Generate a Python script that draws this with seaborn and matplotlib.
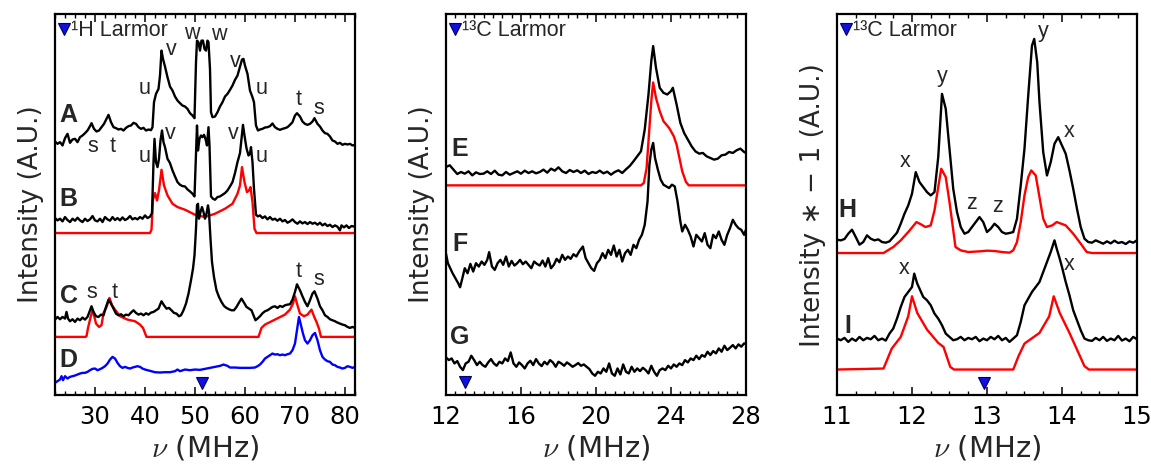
import matplotlib
matplotlib.use('Agg')
import matplotlib.pyplot as plt
from matplotlib.ticker import MultipleLocator
import seaborn as sns

# ---------------- panel 1 : 1H Larmor (A-D) ----------------
a_x = [22.0, 22.5, 23.0, 23.5, 24.0, 24.5, 25.0, 25.5, 26.0, 26.5, 27.0, 27.5, 28.0, 28.5, 29.0, 29.3,
       29.8, 30.3, 30.8, 31.3, 31.8, 32.3, 32.7, 33.2, 33.7, 34.2, 34.7, 35.2, 35.7, 36.2, 36.7, 37.2,
       37.7, 38.2, 38.7, 39.2, 39.7, 40.2, 40.7, 41.2, 41.5, 41.8, 42.2, 42.7, 43.0, 43.3, 43.6, 44.0,
       44.5, 45.0, 45.5, 46.0, 46.5, 47.0, 47.5, 48.0, 48.5, 49.0, 49.5, 49.9, 50.2, 50.4, 50.7, 51.0,
       51.3, 51.6, 51.9, 52.2, 52.5, 52.7, 53.0, 53.2, 53.5, 54.0, 54.5, 55.0, 55.5, 56.0, 56.5, 57.0,
       57.5, 58.0, 58.5, 59.0, 59.4, 59.7, 60.0, 60.5, 61.0, 61.5, 61.8, 62.2, 62.6, 63.0, 63.5, 64.0,
       64.5, 65.0, 65.5, 66.0, 66.5, 67.0, 67.5, 68.0, 68.5, 69.0, 69.5, 70.0, 70.4, 71.0, 71.5, 72.0,
       72.5, 73.0, 73.5, 73.9, 74.5, 75.0, 75.5, 76.0, 76.5, 77.0, 77.5, 78.0, 78.5, 79.0, 79.5, 80.0,
       80.5, 81.0, 81.5, 82.0]
a_y = [76.2, 75.5, 76.0, 75.0, 77.2, 78.5, 75.8, 76.8, 77.0, 76.0, 77.5, 78.0, 78.7, 79.5, 80.8, 81.7,
       80.0, 79.2, 79.5, 80.5, 81.5, 83.0, 84.2, 82.0, 80.5, 80.2, 79.8, 80.0, 79.5, 80.3, 80.8, 81.0,
       81.8, 81.5, 80.5, 80.0, 80.3, 79.5, 79.8, 79.6, 80.5, 88.0, 90.5, 92.0, 96.0, 103.5, 101.0, 98.7,
       95.5, 92.7, 91.5, 89.7, 88.5, 87.7, 87.0, 86.7, 86.0, 84.7, 84.0, 83.2, 100.0, 106.5, 106.0, 103.5,
       106.5, 106.5, 104.0, 103.5, 106.5, 106.0, 98.0, 85.0, 83.5, 83.7, 85.0, 86.7, 88.0, 89.7, 90.5, 91.7,
       93.0, 94.7, 96.0, 98.7, 100.8, 101.0, 99.0, 96.5, 91.5, 89.5, 88.0, 81.0, 79.5, 79.8, 80.0, 80.4,
       80.5, 80.8, 81.6, 80.5, 80.0, 79.7, 80.0, 80.2, 80.5, 81.2, 82.0, 84.0, 84.7, 83.7, 82.2, 81.5,
       81.2, 81.5, 82.2, 83.2, 81.5, 80.7, 79.5, 78.7, 78.5, 77.7, 76.5, 76.2, 75.5, 75.8, 75.2, 75.5,
       75.3, 75.5, 75.0, 75.2]

b_x = [22.0, 22.5, 23.0, 23.5, 24.0, 24.5, 25.0, 25.5, 26.0, 26.5, 27.0, 27.5, 28.0, 28.5, 29.0, 29.5,
       30.0, 30.5, 31.0, 31.5, 32.0, 32.5, 33.0, 33.5, 34.0, 34.5, 35.0, 35.5, 36.0, 36.5, 37.0, 37.5,
       38.0, 38.5, 39.0, 39.5, 40.0, 40.5, 41.0, 41.4, 41.7, 41.9, 42.2, 42.5, 42.8, 43.1, 43.4, 43.7,
       44.0, 44.5, 45.0, 45.5, 46.0, 46.5, 47.0, 47.5, 48.0, 48.5, 49.0, 49.5, 49.9, 50.2, 50.4, 50.6,
       50.9, 51.2, 51.5, 51.8, 52.1, 52.4, 52.7, 52.9, 53.2, 53.6, 54.0, 54.5, 55.0, 55.5, 56.0, 56.5,
       57.0, 57.5, 58.0, 58.5, 59.0, 59.3, 59.6, 59.9, 60.3, 60.7, 61.0, 61.2, 61.5, 61.8, 62.2, 62.6,
       63.0, 63.5, 64.0, 64.5, 65.0, 65.5, 66.0, 66.5, 67.0, 67.5, 68.0, 68.5, 69.0, 69.5, 70.0, 70.5,
       71.0, 71.5, 72.0, 72.5, 73.0, 73.5, 74.0, 74.5, 75.0, 75.5, 76.0, 76.5, 77.0, 77.5, 78.0, 78.5,
       79.0, 79.3, 79.8, 80.3, 80.8, 81.3, 82.0]
b_y = [53.2, 52.5, 53.0, 52.2, 53.5, 52.6, 52.0, 53.0, 52.4, 53.3, 52.5, 52.0, 53.0, 52.3, 52.8, 53.8,
       52.5, 52.2, 53.0, 52.0, 53.5, 52.8, 52.4, 53.5, 52.6, 53.2, 52.5, 53.4, 52.6, 53.0, 53.8, 52.8,
       53.2, 52.8, 53.5, 53.0, 54.0, 53.2, 53.6, 54.7, 70.0, 77.0, 70.0, 68.5, 71.0, 76.5, 79.5, 76.0,
       74.5, 71.0, 69.7, 67.5, 65.7, 64.0, 63.2, 62.8, 62.7, 61.8, 61.2, 60.5, 59.7, 73.0, 81.0, 73.5,
       77.0, 78.0, 77.5, 78.2, 77.0, 75.0, 80.5, 75.0, 59.7, 59.0, 58.7, 59.5, 59.7, 60.2, 60.7, 61.5,
       62.7, 64.0, 66.7, 70.0, 72.7, 77.0, 81.2, 78.0, 74.2, 72.0, 72.5, 74.5, 70.0, 62.0, 54.2, 53.7,
       54.0, 53.2, 53.7, 52.8, 53.5, 52.7, 53.0, 52.4, 53.0, 52.2, 52.6, 51.8, 52.2, 52.8, 52.0, 51.5,
       52.2, 51.6, 52.0, 51.4, 52.0, 51.5, 51.8, 51.2, 51.8, 51.0, 51.5, 50.8, 51.2, 50.5, 51.0, 50.6,
       49.5, 51.0, 50.4, 51.0, 50.2, 50.8, 50.6]

b_fit_x = [22.0, 41.0, 41.3, 41.6, 42.0, 42.4, 42.8, 43.3, 43.8, 44.5, 45.5, 46.5, 48.0, 50.0, 52.0, 54.0,
           56.0, 57.5, 58.5, 59.0, 59.4, 59.9, 60.4, 60.8, 61.1, 61.5, 61.9, 62.3, 82.0]
b_fit_y = [48.7, 48.7, 49.7, 58.7, 60.7, 58.5, 61.5, 67.7, 63.0, 60.0, 57.5, 56.5, 55.7, 54.2, 53.5, 54.5,
           56.0, 57.5, 60.5, 63.0, 68.5, 64.0, 61.0, 61.5, 62.5, 58.0, 50.0, 48.7, 48.7]

c_x = [22.0, 22.5, 23.0, 23.5, 24.0, 24.3, 24.6, 25.0, 25.5, 26.0, 26.5, 27.0, 27.5, 28.0, 28.5, 29.0,
       29.3, 29.7, 30.2, 30.7, 31.2, 31.7, 32.2, 32.7, 33.2, 33.7, 34.2, 34.7, 35.2, 35.7, 36.2, 36.7,
       37.2, 37.7, 38.2, 38.7, 39.2, 39.7, 40.2, 40.7, 41.2, 41.7, 42.2, 42.7, 43.3, 43.8, 44.3, 44.8,
       45.3, 45.8, 46.3, 46.8, 47.2, 47.7, 48.2, 48.7, 49.2, 49.6, 49.9, 50.2, 50.4, 50.6, 50.8, 51.1,
       51.4, 51.7, 52.0, 52.3, 52.6, 52.8, 53.1, 53.4, 53.8, 54.3, 54.8, 55.3, 55.8, 56.3, 56.8, 57.3,
       57.8, 58.3, 58.8, 59.3, 59.8, 60.3, 60.8, 61.3, 61.7, 62.1, 62.5, 63.0, 63.5, 64.0, 64.5, 65.0,
       65.5, 66.0, 66.5, 67.0, 67.5, 68.0, 68.5, 69.0, 69.5, 70.0, 70.4, 71.0, 71.5, 72.0, 72.5, 73.0,
       73.5, 73.9, 74.5, 75.0, 75.5, 76.0, 76.5, 77.0, 77.5, 78.0, 78.5, 79.0, 79.5, 80.0, 80.5, 81.0,
       81.5, 82.0]
c_y = [22.7, 23.5, 22.8, 23.5, 23.0, 25.0, 23.0, 22.2, 22.8, 22.0, 23.0, 22.5, 23.3, 22.7, 23.5, 25.5,
       26.7, 25.0, 23.7, 23.5, 24.2, 24.0, 26.5, 28.7, 27.5, 26.0, 24.5, 24.0, 24.3, 23.7, 24.2, 24.0,
       24.8, 25.5, 24.7, 24.2, 24.5, 24.0, 24.6, 24.2, 24.8, 25.0, 25.5, 26.0, 28.2, 27.0, 26.0, 26.2,
       25.5, 24.7, 24.5, 23.7, 24.0, 25.5, 27.5, 30.5, 34.5, 38.0, 42.0, 50.0, 57.0, 57.5, 53.0, 55.0,
       56.5, 55.0, 53.0, 54.5, 57.0, 55.0, 47.0, 40.0, 35.5, 31.5, 29.5, 28.0, 26.8, 26.2, 25.8, 25.5,
       25.5, 26.5, 27.8, 29.0, 27.8, 26.5, 26.0, 25.5, 24.0, 22.5, 23.0, 23.7, 24.6, 25.2, 25.5, 26.0,
       26.5, 26.7, 26.2, 26.8, 26.5, 27.0, 27.2, 27.3, 28.7, 31.0, 33.3, 31.5, 29.7, 28.0, 26.7, 28.5,
       30.5, 31.2, 29.0, 26.7, 25.5, 24.0, 23.5, 22.8, 22.5, 22.2, 21.8, 21.5, 21.2, 21.0, 20.5, 20.2,
       20.5, 20.2]

c_fit_x = [22.0, 28.1, 28.3, 28.6, 29.0, 29.5, 29.8, 30.2, 30.8, 31.3, 31.7, 32.3, 32.9, 33.4, 34.0, 35.0,
           36.5, 38.0, 39.0, 39.6, 40.3, 62.7, 63.3, 64.0, 66.0, 68.0, 69.0, 69.6, 70.0, 70.5, 71.0, 71.8,
           72.5, 73.3, 73.8, 74.3, 74.8, 75.2, 82.0]
c_fit_y = [17.5, 17.5, 17.7, 20.2, 22.7, 25.7, 24.0, 21.5, 20.5, 21.0, 24.7, 26.5, 29.2, 27.0, 25.7, 23.7,
           22.7, 22.2, 21.2, 20.2, 17.5, 17.5, 20.2, 21.2, 22.7, 24.2, 25.7, 27.5, 29.7, 27.0, 24.5, 23.7,
           24.2, 25.7, 23.7, 22.0, 20.0, 17.5, 17.5]

d_x = [22.0, 22.5, 23.0, 23.3, 23.6, 24.0, 24.5, 25.0, 25.5, 26.0, 26.5, 27.0, 27.5, 28.0, 28.5, 29.0,
       29.5, 30.0, 30.5, 31.0, 31.5, 32.0, 32.5, 33.0, 33.5, 34.0, 34.5, 35.0, 35.5, 36.0, 36.5, 37.0,
       37.5, 38.0, 38.5, 39.0, 39.5, 40.0, 41.0, 42.0, 43.0, 44.0, 45.0, 46.0, 46.5, 47.0, 48.0, 49.0,
       50.0, 51.0, 52.0, 53.0, 54.0, 55.0, 55.7, 56.5, 57.0, 58.0, 59.0, 60.0, 61.0, 62.0, 62.5, 63.0,
       63.5, 64.0, 64.5, 65.0, 65.5, 66.0, 66.5, 67.0, 67.5, 68.0, 68.5, 69.0, 69.5, 70.0, 70.4, 70.8,
       71.2, 71.6, 72.0, 72.5, 73.0, 73.5, 74.0, 74.5, 75.0, 75.5, 76.0, 76.5, 77.0, 77.5, 78.0, 78.5,
       79.0, 79.5, 80.0, 80.5, 81.0, 81.5, 82.0]
d_y = [3.7, 4.2, 4.7, 5.7, 4.5, 5.7, 5.0, 5.5, 5.7, 5.9, 6.2, 6.5, 6.7, 6.7, 7.0, 7.5,
       7.9, 8.0, 7.5, 7.8, 8.2, 8.7, 9.5, 10.7, 11.5, 11.0, 9.7, 8.7, 8.2, 8.5, 8.2, 8.0,
       8.3, 8.5, 8.7, 8.5, 8.0, 7.7, 7.3, 6.9, 6.8, 6.9, 6.9, 7.2, 7.7, 7.2, 7.7, 7.5,
       7.7, 7.6, 7.9, 8.2, 8.5, 8.8, 9.2, 8.8, 8.3, 8.3, 8.2, 8.2, 8.2, 8.3, 8.7, 9.2,
       10.0, 11.0, 11.5, 12.0, 12.5, 12.2, 12.3, 12.0, 12.2, 12.0, 12.3, 12.5, 13.5, 15.5, 19.5, 23.5,
       21.0, 18.5, 16.5, 15.5, 16.5, 18.0, 18.7, 16.5, 13.5, 11.5, 10.7, 10.2, 10.0, 9.2, 9.0, 8.5,
       8.3, 8.0, 8.2, 8.7, 8.5, 8.2, 8.5]

# ---------------- panel 2 : 13C Larmor (E-G) ----------------
e_x = [12.0, 12.2, 12.4, 12.6, 12.8, 13.0, 13.2, 13.4, 13.6, 13.8, 14.0, 14.2, 14.4, 14.6, 14.8, 15.0,
       15.2, 15.4, 15.6, 15.8, 16.0, 16.2, 16.4, 16.6, 16.8, 17.0, 17.2, 17.4, 17.6, 17.8, 18.0, 18.2,
       18.4, 18.6, 18.8, 19.0, 19.2, 19.4, 19.6, 19.8, 20.0, 20.2, 20.4, 20.6, 20.8, 21.0, 21.2, 21.4,
       21.6, 21.8, 22.0, 22.2, 22.4, 22.6, 22.8, 22.95, 23.05, 23.2, 23.4, 23.6, 23.8, 24.0, 24.1, 24.3,
       24.5, 24.7, 24.9, 25.1, 25.3, 25.5, 25.7, 25.9, 26.1, 26.3, 26.5, 26.7, 26.9, 27.1, 27.3, 27.5,
       27.7, 27.9, 28.0]
e_y = [68.3, 68.8, 67.5, 66.2, 66.8, 66.3, 67.0, 65.8, 66.7, 66.2, 66.3, 67.0, 66.2, 67.2, 66.0, 65.8,
       66.8, 66.0, 66.5, 67.0, 66.3, 67.2, 66.5, 67.0, 66.4, 66.8, 67.5, 66.6, 67.8, 67.2, 68.2, 67.0,
       66.5, 67.4, 66.8, 67.3, 66.5, 67.2, 66.2, 66.8, 66.5, 67.2, 66.4, 66.9, 66.0, 66.8, 67.3, 66.5,
       67.6, 68.6, 70.0, 71.5, 73.0, 79.5, 90.0, 100.0, 104.5, 98.0, 92.0, 90.5, 90.0, 91.0, 92.0, 87.0,
       81.5, 78.5, 76.5, 74.5, 73.0, 72.3, 72.5, 71.5, 71.0, 70.5, 70.8, 71.8, 72.0, 72.8, 72.5, 73.3,
       73.8, 72.8, 72.5]

e_fit_x = [12.0, 22.4, 22.55, 22.7, 22.85, 22.95, 23.05, 23.2, 23.4, 23.6, 23.9, 24.15, 24.3, 24.45, 24.6,
           24.8, 24.95, 28.0]
e_fit_y = [62.8, 62.8, 63.5, 68.0, 80.0, 88.0, 93.6, 89.0, 85.0, 82.0, 80.0, 77.5, 75.0, 71.0, 67.0,
           63.8, 62.8, 62.8]

f_x = [12.0, 12.1, 12.2, 12.35, 12.5, 12.65, 12.75, 12.85, 13.0, 13.15, 13.3, 13.45, 13.6, 13.75, 13.9, 14.05,
       14.2, 14.3, 14.45, 14.6, 14.75, 14.9, 15.05, 15.2, 15.35, 15.5, 15.65, 15.8, 15.95, 16.1, 16.25, 16.4,
       16.55, 16.7, 16.85, 17.0, 17.15, 17.3, 17.45, 17.6, 17.75, 17.9, 18.05, 18.2, 18.35, 18.5, 18.65, 18.8,
       18.95, 19.1, 19.3, 19.45, 19.6, 19.75, 19.9, 20.05, 20.2, 20.35, 20.5, 20.65, 20.8, 20.95, 21.1, 21.25,
       21.4, 21.55, 21.7, 21.85, 22.0, 22.15, 22.3, 22.45, 22.6, 22.75, 22.85, 22.95, 23.05, 23.15, 23.3, 23.45,
       23.6, 23.75, 23.9, 24.05, 24.2, 24.35, 24.5, 24.6, 24.75, 24.9, 25.05, 25.2, 25.35, 25.5, 25.65, 25.8,
       25.95, 26.1, 26.25, 26.4, 26.55, 26.7, 26.85, 27.0, 27.15, 27.3, 27.45, 27.6, 27.75, 27.9, 28.0]
f_y = [42.3, 39.5, 38.3, 36.5, 35.0, 33.5, 32.3, 34.5, 38.0, 36.5, 39.3, 37.0, 39.5, 38.5, 40.0, 39.0,
       40.5, 42.8, 38.5, 37.5, 39.5, 40.5, 39.0, 41.5, 38.5, 40.2, 38.8, 39.5, 40.5, 39.2, 40.0, 39.0,
       38.0, 40.0, 39.3, 38.8, 40.3, 38.5, 41.0, 38.0, 39.0, 40.8, 39.8, 42.0, 40.5, 41.5, 40.8, 42.2,
       41.5, 43.0, 44.5, 41.0, 39.5, 38.0, 37.2, 39.5, 40.5, 42.5, 41.0, 43.5, 42.0, 44.8, 41.5, 43.5,
       40.0, 42.5, 43.5, 42.0, 45.0, 44.0, 46.5, 48.0, 51.0, 58.0, 69.0, 73.5, 75.5, 71.0, 67.5, 64.5,
       63.0, 62.5, 62.0, 63.0, 62.5, 58.0, 52.0, 49.0, 51.0, 49.5, 47.5, 44.5, 48.0, 47.0, 46.0, 48.5,
       45.0, 44.0, 48.0, 47.0, 49.0, 46.5, 45.0, 48.0, 50.0, 52.5, 51.0, 50.0, 49.5, 48.0, 49.5]

g_x = [12.0, 12.15, 12.3, 12.45, 12.6, 12.75, 12.9, 13.05, 13.2, 13.35, 13.5, 13.65, 13.8, 13.95, 14.1, 14.25,
       14.4, 14.55, 14.7, 14.85, 15.0, 15.15, 15.3, 15.45, 15.6, 15.75, 15.9, 16.05, 16.2, 16.35, 16.5, 16.65,
       16.8, 16.95, 17.1, 17.25, 17.4, 17.55, 17.7, 17.85, 18.0, 18.15, 18.3, 18.45, 18.6, 18.75, 18.9, 19.05,
       19.2, 19.35, 19.5, 19.65, 19.8, 19.95, 20.1, 20.25, 20.4, 20.55, 20.7, 20.85, 21.0, 21.15, 21.3, 21.45,
       21.6, 21.75, 21.9, 22.05, 22.2, 22.35, 22.5, 22.65, 22.8, 22.95, 23.1, 23.25, 23.4, 23.55, 23.7, 23.85,
       24.0, 24.15, 24.3, 24.45, 24.6, 24.75, 24.9, 25.05, 25.2, 25.35, 25.5, 25.65, 25.8, 25.95, 26.1, 26.25,
       26.4, 26.55, 26.7, 26.85, 27.0, 27.15, 27.3, 27.45, 27.6, 27.75, 27.9, 28.0]
g_y = [11.3, 10.5, 11.0, 9.5, 10.2, 8.5, 7.5, 9.5, 10.0, 11.8, 10.5, 9.0, 10.0, 9.0, 8.5, 9.8,
       10.8, 9.5, 8.8, 10.0, 9.5, 11.0, 10.2, 12.8, 9.5, 8.5, 9.8, 9.0, 8.0, 9.5, 10.3, 9.0,
       10.8, 9.5, 8.7, 10.0, 9.2, 10.5, 9.8, 8.5, 10.0, 9.5, 8.8, 9.8, 9.2, 8.5, 9.0, 9.6,
       8.8, 9.2, 8.5, 7.8, 6.5, 5.8, 7.0, 6.5, 8.0, 7.0, 9.5, 6.5, 5.8, 8.0, 6.2, 9.2,
       7.0, 6.5, 8.5, 7.0, 8.0, 7.2, 8.2, 7.5, 6.5, 8.8, 7.0, 5.8, 7.5, 8.0, 7.5, 8.8,
       8.0, 9.2, 8.5, 9.5, 9.0, 10.5, 9.8, 11.0, 10.5, 11.8, 10.8, 12.0, 11.5, 13.0, 12.0, 13.2,
       12.5, 14.0, 13.0, 14.8, 13.5, 14.2, 15.0, 14.0, 15.2, 14.5, 15.5, 15.3]

# ---------------- panel 3 : 13C Larmor (H-I) ----------------
h_x = [11.0, 11.05, 11.1, 11.15, 11.2, 11.25, 11.3, 11.35, 11.4, 11.45, 11.5, 11.55, 11.6, 11.65, 11.7, 11.75,
       11.8, 11.85, 11.9, 11.95, 12.0, 12.05, 12.1, 12.15, 12.2, 12.25, 12.3, 12.35, 12.4, 12.45, 12.5, 12.55,
       12.6, 12.65, 12.7, 12.75, 12.8, 12.85, 12.9, 12.95, 13.0, 13.05, 13.1, 13.15, 13.2, 13.25, 13.3, 13.35,
       13.4, 13.45, 13.5, 13.55, 13.6, 13.63, 13.67, 13.7, 13.75, 13.8, 13.85, 13.9, 13.95, 14.0, 14.05, 14.1,
       14.15, 14.2, 14.25, 14.3, 14.35, 14.4, 14.45, 14.5, 14.55, 14.6, 14.65, 14.7, 14.75, 14.8, 14.85, 14.9,
       14.95, 15.0]
h_y = [46.7, 46.5, 46.9, 48.5, 49.7, 47.5, 45.2, 46.0, 48.0, 47.0, 46.5, 46.8, 46.0, 45.8, 46.2, 47.5,
       48.8, 51.5, 54.5, 57.0, 60.5, 67.0, 64.0, 62.5, 61.0, 60.0, 61.0, 71.5, 90.5, 86.0, 74.0, 62.0,
       55.0, 50.5, 48.5, 49.0, 50.5, 52.0, 53.5, 52.0, 49.0, 50.0, 51.5, 50.5, 49.0, 48.5, 48.7, 49.0,
       53.0, 63.0, 74.0, 90.0, 105.0, 107.0, 100.0, 88.0, 73.0, 66.0, 70.0, 75.5, 77.5, 75.0, 72.5, 67.5,
       62.0, 56.0, 50.5, 47.0, 46.0, 45.8, 46.5, 46.0, 45.5, 46.2, 45.6, 46.4, 45.7, 46.0, 45.4, 46.2,
       45.8, 46.5]

h_fit_x = [11.0, 11.62, 11.75, 11.85, 11.95, 12.06, 12.12, 12.18, 12.25, 12.3, 12.35, 12.39, 12.45, 12.5,
           12.58, 12.65, 12.75, 12.9, 13.0, 13.1, 13.2, 13.3, 13.35, 13.4, 13.45, 13.5, 13.55, 13.59, 13.65,
           13.7, 13.75, 13.8, 13.87, 13.93, 14.05, 14.15, 14.25, 14.33, 14.4, 15.0]
h_fit_y = [42.7, 42.7, 44.5, 46.5, 49.0, 52.0, 51.3, 50.5, 51.0, 55.5, 62.5, 68.0, 65.5, 58.0,
           44.5, 43.5, 43.0, 43.2, 43.4, 43.3, 43.0, 42.8, 43.5, 46.0, 52.0, 60.0, 65.5, 67.5, 66.0,
           59.5, 53.0, 50.5, 51.0, 52.0, 51.0, 48.5, 45.5, 43.0, 42.7, 42.7]

i_x = [11.0, 11.05, 11.1, 11.15, 11.2, 11.25, 11.3, 11.35, 11.4, 11.45, 11.5, 11.55, 11.6, 11.65, 11.7, 11.75,
       11.8, 11.85, 11.9, 11.95, 12.0, 12.03, 12.07, 12.1, 12.15, 12.2, 12.25, 12.3, 12.35, 12.4, 12.45, 12.5,
       12.55, 12.6, 12.65, 12.7, 12.75, 12.8, 12.85, 12.9, 12.95, 13.0, 13.05, 13.1, 13.15, 13.2, 13.25, 13.3,
       13.35, 13.4, 13.45, 13.5, 13.55, 13.6, 13.65, 13.7, 13.75, 13.8, 13.85, 13.9, 13.93, 13.97, 14.0, 14.05,
       14.1, 14.15, 14.2, 14.25, 14.3, 14.35, 14.4, 14.45, 14.5, 14.55, 14.6, 14.65, 14.7, 14.75, 14.8, 14.85,
       14.9, 14.95, 15.0]
i_y = [17.0, 16.5, 17.2, 16.0, 17.0, 16.3, 17.5, 16.5, 17.2, 16.8, 17.8, 16.5, 17.0, 16.4, 18.5, 20.0,
       23.0, 26.5, 29.5, 31.0, 32.5, 36.5, 33.5, 32.0, 29.5, 28.5, 27.0, 24.5, 23.0, 21.0, 18.5, 17.5,
       16.5, 16.8, 17.5, 16.5, 17.2, 16.8, 17.5, 16.2, 17.0, 16.5, 17.5, 16.8, 17.8, 16.5, 17.2, 16.0,
       17.0, 18.0, 22.0, 27.0, 29.0, 31.0, 32.5, 34.0, 37.0, 40.0, 43.0, 46.5, 44.0, 41.0, 38.5, 34.0,
       30.0, 25.5, 22.5, 19.5, 17.0, 16.5, 16.3, 17.2, 16.5, 17.5, 16.3, 17.0, 16.5, 17.8, 16.4, 17.0,
       16.2, 17.5, 16.8]

i_fit_x = [11.0, 11.62, 11.73, 11.85, 11.95, 12.0, 12.07, 12.2, 12.35, 12.42, 12.51, 12.56, 13.35, 13.42,
           13.5, 13.7, 13.83, 13.89, 13.97, 14.1, 14.2, 14.3, 14.36, 15.0]
i_fit_y = [7.7, 8.0, 14.0, 17.5, 23.7, 29.7, 24.7, 19.7, 15.7, 14.5, 8.5, 7.7, 7.7, 11.7,
           15.5, 18.7, 23.7, 29.7, 24.7, 18.7, 13.7, 8.7, 7.7, 7.7]

# text labels of each panel
p1_letters = ['A', 'B', 'C', 'D']
p1_letter_y = [84.2, 58.9, 29.7, 10.7]
p1_peaks = ['w', 'w', 'v', 'v', 'u', 'u', 't', 's', 's', 't', 'u', 'v', 'v', 'u', 's', 't', 't', 's']
p1_peak_x = [49.3, 54.7, 45.3, 58.0, 40.0, 63.3, 70.7, 74.7, 29.5, 33.5, 40.0, 45.0, 57.7, 63.3,
             29.3, 34.0, 70.7, 74.7]
p1_peak_y = [108.7, 108.2, 103.7, 100.2, 92.2, 92.2, 88.7, 86.2, 74.7, 74.7, 71.7, 78.7, 78.7, 71.7,
             30.7, 30.7, 37.2, 34.7]
p2_letters = ['E', 'F', 'G']
p2_letter_y = [73.8, 45.3, 17.3]
p3_letters = ['H', 'I']
p3_letter_y = [55.7, 20.7]
p3_peaks = ['x', 'y', 'z', 'z', 'y', 'x', 'x', 'x']
p3_peak_x = [11.91, 12.40, 12.79, 13.14, 13.75, 14.10, 11.90, 14.10]
p3_peak_y = [70.2, 95.7, 57.7, 56.7, 109.2, 79.2, 37.9, 39.2]

larmor_1h = 51.5
larmor_13c_wide = 13.0
larmor_13c_zoom = 12.96

sns.set_style('white')
plt.rcParams['font.family'] = ['DejaVu Sans']
plt.rcParams['mathtext.fontset'] = 'cm'
ann_font = ['Liberation Sans', 'DejaVu Sans']


def style_axis(ax, xlim, ylim, major, minor, ylabel):
    ax.set_xlim(*xlim)
    ax.set_ylim(*ylim)
    ax.set_yticks([])
    ax.xaxis.set_major_locator(MultipleLocator(major))
    ax.xaxis.set_minor_locator(MultipleLocator(minor))
    ax.tick_params(axis='x', which='both', direction='in', top=True, bottom=True, labelsize=17.5,
                   pad=7, colors='black')
    ax.tick_params(axis='x', which='major', length=6, width=1.1)
    ax.tick_params(axis='x', which='minor', length=3, width=1.0)
    for sp in ax.spines.values():
        sp.set_linewidth(1.6)
        sp.set_color('black')
    ax.set_xlabel(r'$\nu$ (MHz)', fontsize=21, labelpad=3)
    ax.set_ylabel(ylabel, fontsize=19, labelpad=8)


def trace(ax, x, y, color):
    sns.lineplot(x=x, y=y, ax=ax, color=color, lw=1.7, sort=False, estimator=None)


def larmor_header(ax, text):
    ax.plot([0.03], [0.961], marker='v', ms=9, color='#1010e0', mec='#000060', mew=0.8,
            transform=ax.transAxes, clip_on=False)
    ax.text(0.053, 0.957, text, transform=ax.transAxes, fontsize=15.5, va='center', ha='left',
            family=ann_font)


fig = plt.figure(figsize=(11.51, 4.66), dpi=100)
ax1 = fig.add_axes([0.0478, 0.152, 0.2606, 0.818])
ax2 = fig.add_axes([0.3875, 0.152, 0.2606, 0.818])
ax3 = fig.add_axes([0.7272, 0.152, 0.2606, 0.818])

# panel 1
trace(ax1, b_fit_x, b_fit_y, 'red')
trace(ax1, c_fit_x, c_fit_y, 'red')
trace(ax1, a_x, a_y, 'black')
trace(ax1, b_x, b_y, 'black')
trace(ax1, c_x, c_y, 'black')
trace(ax1, d_x, d_y, 'blue')
style_axis(ax1, (22, 82), (0, 114.5), 10, 2, 'Intensity (A.U.)')
for lab, yy in zip(p1_letters, p1_letter_y):
    ax1.text(24.7, yy, lab, fontsize=18, fontweight='bold', ha='center', va='center', family=ann_font)
for lab, xx, yy in zip(p1_peaks, p1_peak_x, p1_peak_y):
    ax1.text(xx, yy, lab, fontsize=15.5, ha='center', va='center', family=ann_font)
ax1.plot([larmor_1h], [3.7], marker='v', ms=9, color='#1010e0', mec='#000060', mew=0.8)
larmor_header(ax1, '¹H Larmor')

# panel 2
trace(ax2, e_fit_x, e_fit_y, 'red')
trace(ax2, e_x, e_y, 'black')
trace(ax2, f_x, f_y, 'black')
trace(ax2, g_x, g_y, 'black')
style_axis(ax2, (12, 28), (0, 114.1), 4, 0.5, 'Intensity (A.U.)')
for lab, yy in zip(p2_letters, p2_letter_y):
    ax2.text(12.72, yy, lab, fontsize=18, fontweight='bold', ha='center', va='center', family=ann_font)
ax2.plot([larmor_13c_wide], [3.8], marker='v', ms=9, color='#1010e0', mec='#000060', mew=0.8)
larmor_header(ax2, '¹³C Larmor')

# panel 3
trace(ax3, h_fit_x, h_fit_y, 'red')
trace(ax3, i_fit_x, i_fit_y, 'red')
trace(ax3, h_x, h_y, 'black')
trace(ax3, i_x, i_y, 'black')
style_axis(ax3, (11, 15), (0, 114.5), 1, 0.25, 'Intensity ∗ − 1 (A.U.)')
for lab, yy in zip(p3_letters, p3_letter_y):
    ax3.text(11.14, yy, lab, fontsize=18, fontweight='bold', ha='center', va='center', family=ann_font)
for lab, xx, yy in zip(p3_peaks, p3_peak_x, p3_peak_y):
    ax3.text(xx, yy, lab, fontsize=15.5, ha='center', va='center', family=ann_font)
ax3.plot([larmor_13c_zoom], [3.7], marker='v', ms=9, color='#1010e0', mec='#000060', mew=0.8)
larmor_header(ax3, '¹³C Larmor')

plt.savefig('out.png', dpi=100)
plt.close()
